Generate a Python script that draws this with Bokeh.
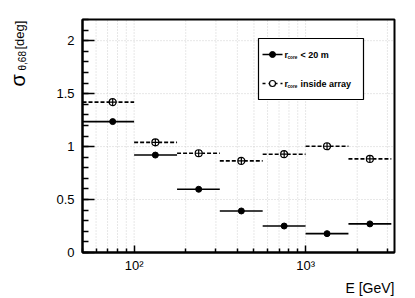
import math
from bokeh.plotting import figure
from bokeh.models import (FixedTicker, Label, ColumnDataSource, LogAxis,
                          LinearAxis, BoxAnnotation)
from bokeh.embed import file_html
from bokeh.resources import INLINE

# ---- data ----
bin_lo = [50, 100, 178, 316, 562, 1000, 1778]
bin_hi = [100, 178, 316, 562, 1000, 1778, 3162]
bin_center = [75, 133, 238, 422, 750, 1334, 2371]
sigma_core20 = [1.236, 0.92, 0.597, 0.392, 0.25, 0.178, 0.27]
sigma_inside = [1.42, 1.04, 0.937, 0.865, 0.928, 1.003, 0.884]

x_major = [100, 1000]
x_labels = {100: "10²", 1000: "10³"}
y_major = [0, 0.5, 1, 1.5, 2]
y_labels = {0: "0", 0.5: "0.5", 1: "1", 1.5: "1.5", 2: "2"}

XMIN, XMAX, YMIN, YMAX = 50, 3300, 0, 2.2
FONT = "Liberation Sans"

# page layout (pixels); the plotting frame covers the whole canvas and the
# axes box sits inside it
W, H = 415, 298
FL, FR, FT, FB = 82, 394, 19, 252
LA, LB = math.log10(XMIN), math.log10(XMAX)
SX = (LB - LA) / (FR - FL)
SY = (YMAX - YMIN) / (FB - FT)


def X(px):
    return 10 ** (LA + (px - FL) * SX)


def Y(py):
    return YMIN + (FB - py) * SY


p = figure(width=W, height=H, x_axis_type="log",
           x_range=(X(0), X(W)), y_range=(Y(H), Y(0)),
           x_axis_location=None, y_axis_location=None,
           output_backend="svg", toolbar_location=None,
           min_border=0, min_border_left=0, min_border_right=0,
           min_border_top=0, min_border_bottom=0)
p.background_fill_color = "white"
p.border_fill_color = "white"
p.outline_line_color = None
p.grid.visible = False

x_minor = [v * m for v in (10, 100, 1000) for m in range(2, 10) if XMIN <= v * m <= XMAX]
y_minor = [round(i * 0.1, 1) for i in range(0, 23)]

# dotted grid inside the axes box
gx = x_major + x_minor
p.segment(x0=gx, x1=gx, y0=[YMIN] * len(gx), y1=[YMAX] * len(gx),
          line_color="#cfcfcf", line_dash="1 2", line_width=1)
gy = y_major[1:]
p.segment(x0=[XMIN] * len(gy), x1=[XMAX] * len(gy), y0=gy, y1=gy,
          line_color="#cfcfcf", line_dash="1 2", line_width=1)

xa = LogAxis(fixed_location=YMIN, bounds=(XMIN, XMAX),
             ticker=FixedTicker(ticks=x_major, minor_ticks=x_minor),
             major_label_overrides=x_labels)
ya = LinearAxis(fixed_location=XMIN, bounds=(YMIN, YMAX),
                ticker=FixedTicker(ticks=y_major, minor_ticks=y_minor),
                major_label_overrides=y_labels)
for ax in (xa, ya):
    ax.axis_line_width = 2
    ax.axis_line_color = "black"
    ax.major_tick_out = 0
    ax.minor_tick_out = 0
    ax.major_tick_line_width = 1.5
    ax.minor_tick_line_width = 1.5
    ax.major_label_text_font = FONT
    ax.major_label_text_font_size = "13px"
    ax.major_label_text_color = "black"
xa.major_tick_in = 7
xa.minor_tick_in = 4
ya.major_tick_in = 12
ya.minor_tick_in = 6
xa.major_label_standoff = 5
ya.major_label_standoff = 8
ya.axis_label = "."
ya.axis_label_text_color = "white"
ya.axis_label_text_alpha = 0.01
ya.axis_label_text_font_size = "14px"
ya.axis_label_standoff = 20
p.add_layout(xa, "below")
p.add_layout(ya, "left")

# box outline (top and right sides)
p.add_layout(BoxAnnotation(left=XMIN, right=XMAX, bottom=YMIN, top=YMAX,
                           fill_color=None, line_color="black", line_alpha=1,
                           line_width=2))

src = ColumnDataSource(dict(lo=bin_lo, hi=bin_hi, xc=bin_center,
                            a=sigma_core20, b=sigma_inside))
p.segment(x0="lo", x1="hi", y0="b", y1="b", source=src, line_color="black",
          line_width=1.6, line_dash="4 2")
p.scatter(x="xc", y="b", source=src, marker="circle_cross", size=7,
          line_color="black", fill_color="white", line_width=1.2)
p.segment(x0="lo", x1="hi", y0="a", y1="a", source=src, line_color="black",
          line_width=1.6)
p.scatter(x="xc", y="a", source=src, marker="circle", size=6,
          line_color="black", fill_color="black")

# ---- legend (drawn by hand because of the subscripts) ----
p.quad(left=[X(258)], right=[X(363)], top=[Y(38)], bottom=[Y(99)],
       fill_color="white", line_color="black", line_width=1.2)
ey1, ey2 = Y(54), Y(83)
p.segment(x0=[X(262)], x1=[X(282)], y0=[ey1], y1=[ey1], line_color="black", line_width=1.6)
p.scatter(x=[X(272)], y=[ey1], marker="circle", size=6, color="black")
p.segment(x0=[X(262)], x1=[X(282)], y0=[ey2], y1=[ey2], line_color="black",
          line_width=1.6, line_dash="3 3")
p.scatter(x=[X(272)], y=[ey2], marker="circle", size=6, line_color="black",
          fill_color="white", line_width=1.2)


def lab(x, y, text, size, **kw):
    opts = dict(text_font=FONT, text_font_size=size, text_color="black",
                text_baseline="middle")
    opts.update(kw)
    p.add_layout(Label(x=x, y=y, text=text, **opts))


for ey, rest in ((ey1, "< 20 m"), (ey2, "inside array")):
    lab(X(284), ey, "r", "9px", text_font_style="bold")
    lab(X(284), ey, "core", "4.7px", x_offset=3, y_offset=-2.5, text_font_style="bold")
    lab(X(284), ey, rest, "9px", x_offset=16, text_font_style="bold")

# ---- axis titles ----
lab(X(394), Y(287), "E [GeV]", "14px", text_align="right", text_baseline="alphabetic")
ang = math.pi / 2
lab(X(26), Y(49), "[deg]", "13px", angle=ang, text_align="left",
    text_baseline="bottom")
lab(X(27.5), Y(70), "θ,68", "10px", angle=ang, text_align="left",
    text_baseline="bottom")
lab(X(28), Y(86), "σ", "20px", angle=ang, text_align="left",
    text_baseline="bottom")

open("out.html", "w").write(file_html(p, INLINE))
